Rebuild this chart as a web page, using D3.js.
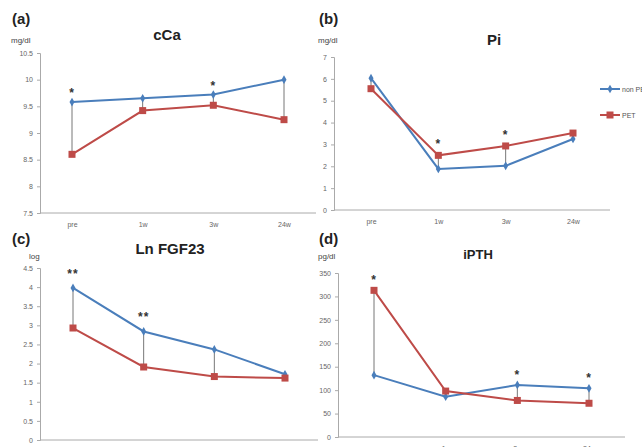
<!DOCTYPE html>
<html><head><meta charset="utf-8">
<script src="https://cdn.jsdelivr.net/npm/d3@7"></script>
<style>body{margin:0;background:#fff}svg{display:block}text{font-family:"Liberation Sans",Arial,sans-serif}</style>
</head><body>
<svg id="c" width="642" height="447"></svg>
<script>
const categories = ["pre", "1w", "3w", "24w"];
const seriesNames = ["non PET", "PET"];
const cCaNonPET = [9.58, 9.65, 9.72, 10.0];
const cCaPET = [8.6, 9.42, 9.52, 9.25];
const piNonPET = [6.03, 1.88, 2.02, 3.25];
const piPET = [5.55, 2.5, 2.93, 3.52];
const fgfNonPET = [3.98, 2.84, 2.37, 1.72];
const fgfPET = [2.93, 1.91, 1.66, 1.62];
const pthNonPET = [132, 86, 111, 104];
const pthPET = [313, 98, 78, 72];
const cCaTicks = [7.5, 8, 8.5, 9, 9.5, 10, 10.5];
const piTicks = [0, 1, 2, 3, 4, 5, 6, 7];
const fgfTicks = [0, 0.5, 1, 1.5, 2, 2.5, 3, 3.5, 4, 4.5];
const pthTicks = [0, 50, 100, 150, 200, 250, 300, 350];
const cCaStars = ["*", "", "*", ""];
const piStars = ["", "*", "*", ""];
const fgfStars = ["**", "**", "", ""];
const pthStars = ["*", "", "*", "*"];

const BLUE = "#4a7ebb", RED = "#be4b48";
const svg = d3.select("#c");

function panel(o) {
  const g = svg.append("g");
  const x = d3.scalePoint().domain(categories).range([o.x0 + o.pad, o.x1 - o.pad]);
  const y = d3.scaleLinear().domain([o.ticks[0], o.ticks[o.ticks.length - 1]]).range([o.yb, o.yt]);
  // label, unit, title
  g.append("text").attr("x", o.lx).attr("y", o.ly).attr("font-size", 15).attr("font-weight", "bold").attr("fill", "#222").text(o.letter);
  g.append("text").attr("x", o.ux).attr("y", o.uy).attr("font-size", 8).attr("fill", "#444").text(o.unit);
  g.append("text").attr("x", o.tx).attr("y", o.ty).attr("font-size", o.tsize || 15).attr("font-weight", "bold").attr("fill", "#222").attr("text-anchor", "middle").text(o.title);
  // axes
  const ya = g.append("g").attr("transform", `translate(${o.x0},0)`)
    .call(d3.axisLeft(y).tickValues(o.ticks).tickSize(3).tickPadding(4).tickFormat(d3.format("")));
  const xa = g.append("g").attr("transform", `translate(0,${o.yb})`)
    .call(d3.axisBottom(x).tickSize(0).tickPadding(9));
  xa.select(".domain").attr("d", `M${o.x0},0H${o.x1}`);
  [ya, xa].forEach(a => {
    a.selectAll(".domain,line").attr("stroke", "#aaa");
    a.selectAll("text").attr("fill", "#666").attr("font-size", 7).attr("font-family", "Liberation Sans, Arial, sans-serif");
  });
  // high-low lines
  g.selectAll(".hl").data(categories).enter().append("line")
    .attr("x1", d => x(d)).attr("x2", d => x(d))
    .attr("y1", (d, i) => y(o.a[i])).attr("y2", (d, i) => y(o.b[i]))
    .attr("stroke", "#777").attr("stroke-width", 1);
  const line = d3.line().x((d, i) => x(categories[i])).y(d => y(d));
  g.append("path").datum(o.a).attr("d", line).attr("fill", "none").attr("stroke", BLUE).attr("stroke-width", 2);
  g.append("path").datum(o.b).attr("d", line).attr("fill", "none").attr("stroke", RED).attr("stroke-width", 2);
  g.selectAll(".dm").data(o.a).enter().append("path")
    .attr("d", d3.symbol(d3.symbolDiamond, 22)())
    .attr("transform", (d, i) => `translate(${x(categories[i])},${y(d)})`).attr("fill", BLUE);
  g.selectAll(".sq").data(o.b).enter().append("rect")
    .attr("x", (d, i) => x(categories[i]) - 3.5).attr("y", d => y(d) - 3.5)
    .attr("width", 7).attr("height", 7).attr("fill", RED);
  g.selectAll(".st").data(o.stars).enter().append("text")
    .attr("x", (d, i) => x(categories[i])).attr("text-anchor", "middle")
    .attr("y", (d, i) => y(Math.max(o.a[i], o.b[i])) - o.sg)
    .attr("font-size", 12).attr("font-weight", "bold").attr("fill", "#333").attr("letter-spacing", 1).text(d => d);
  return {x, y};
}

panel({letter: "(a)", lx: 12, ly: 24, unit: "mg/dl", ux: 11, uy: 43, title: "cCa", tx: 167, ty: 40,
  x0: 40, x1: 316, pad: 32, yt: 53, yb: 213, ticks: cCaTicks, a: cCaNonPET, b: cCaPET, stars: cCaStars, sg: 5});
panel({letter: "(b)", lx: 319, ly: 24, unit: "mg/dl", ux: 318, uy: 43, title: "Pi", tx: 494, ty: 45,
  x0: 334, x1: 610, pad: 37, yt: 57, yb: 210, ticks: piTicks, a: piNonPET, b: piPET, stars: piStars, sg: 7});
panel({letter: "(c)", lx: 12, ly: 244, unit: "log", ux: 29, uy: 259, title: "Ln FGF23", tx: 170, ty: 254,
  x0: 40, x1: 318, pad: 33, yt: 268, yb: 440, ticks: fgfTicks, a: fgfNonPET, b: fgfPET, stars: fgfStars, sg: 10});
panel({letter: "(d)", lx: 319, ly: 244, unit: "pg/dl", ux: 318, uy: 259, title: "iPTH", tx: 478, ty: 259, tsize: 13,
  x0: 338, x1: 625, pad: 36, yt: 273, yb: 437, ticks: pthTicks, a: pthNonPET, b: pthPET, stars: pthStars, sg: 6});

// legend
const leg = svg.append("g");
const legY = [89, 115];
const legC = [BLUE, RED];
seriesNames.forEach((n, i) => {
  leg.append("line").attr("x1", 600).attr("x2", 620).attr("y1", legY[i]).attr("y2", legY[i]).attr("stroke", legC[i]).attr("stroke-width", 2);
  if (i === 0) leg.append("path").attr("d", d3.symbol(d3.symbolDiamond, 22)()).attr("transform", `translate(610,${legY[i]})`).attr("fill", BLUE);
  else leg.append("rect").attr("x", 606.5).attr("y", legY[i] - 3.5).attr("width", 7).attr("height", 7).attr("fill", RED);
  leg.append("text").attr("x", 622).attr("y", legY[i] + 2.5).attr("font-size", 7).attr("fill", "#555").text(n);
});
</script>
</body></html>
